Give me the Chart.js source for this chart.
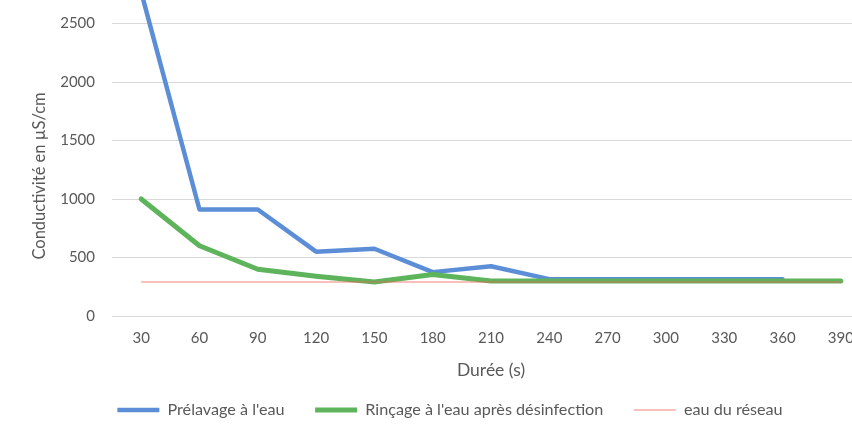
<!DOCTYPE html>
<html>
<head>
<meta charset="utf-8">
<script src="https://cdn.jsdelivr.net/npm/chart.js@4/dist/chart.umd.min.js"></script>
<style>
  html, body { margin: 0; padding: 0; background: #ffffff; }
  #frame { position: relative; width: 852px; height: 428px; overflow: hidden; background: #ffffff; }
  #holder { position: absolute; left: 0; top: -61px; width: 906px; height: 489px; }
</style>
</head>
<body>
<div id="frame">
  <div id="holder"><canvas id="chart" width="906" height="489"></canvas></div>
</div>
<script>
// Durée de rinçage (s)
const durees = ['30', '60', '90', '120', '150', '180', '210', '240', '270', '300', '330', '360', '390'];

// Conductivité en µS/cm
const prelavage = [2770, 910, 910, 550, 575, 375, 425, 315, 315, 315, 315, 315, null];
const rincage   = [1000, 600, 400, 340, 290, 355, 300, 300, 300, 300, 300, 300, 300];
const reseau    = [290, 290, 290, 290, 290, 290, 290, 290, 290, 290, 290, 290, 290];

const yTicks = [0, 500, 1000, 1500, 2000, 2500, 3000];

const seriesNames = ["Prélavage à l'eau", "Rinçage à l'eau après désinfection", "eau du réseau"];
const yTitle = 'Conductivité en µS/cm';
const xTitle = 'Durée (s)';

const textColor = '#595959';
const fontFamily = 'Lato, "Open Sans", sans-serif';

// axis titles, placed by hand
const axisTitlesPlugin = {
  id: 'axisTitlesPlugin',
  afterDraw(chart) {
    const ctx = chart.ctx;
    const area = chart.chartArea;
    ctx.save();
    ctx.fillStyle = textColor;
    ctx.textAlign = 'center';
    ctx.textBaseline = 'middle';

    ctx.font = '17.5px ' + fontFamily;
    ctx.fillText(xTitle, (area.left + area.right) / 2, 431);

    ctx.translate(40, 237);
    ctx.rotate(-Math.PI / 2);
    ctx.font = '16.5px ' + fontFamily;
    ctx.fillText(yTitle, 0, 0);
    ctx.restore();
  }
};

new Chart(document.getElementById('chart'), {
  type: 'line',
  data: {
    labels: durees,
    datasets: [
      {
        label: seriesNames[0],
        data: prelavage,
        borderColor: '#5b8ed6',
        backgroundColor: '#5b8ed6',
        borderWidth: 4.5,
        borderCapStyle: 'round',
        borderJoinStyle: 'round',
        pointRadius: 0,
        tension: 0,
        order: 3
      },
      {
        label: seriesNames[1],
        data: rincage,
        borderColor: '#5db45a',
        backgroundColor: '#5db45a',
        borderWidth: 5,
        borderCapStyle: 'round',
        borderJoinStyle: 'round',
        pointRadius: 0,
        tension: 0,
        order: 2
      },
      {
        label: seriesNames[2],
        data: reseau,
        borderColor: 'rgba(240,100,90,0.55)',
        backgroundColor: 'rgba(240,100,90,0.55)',
        borderWidth: 1.5,
        pointRadius: 0,
        tension: 0,
        order: 1
      }
    ]
  },
  options: {
    responsive: false,
    animation: false,
    devicePixelRatio: 1,
    layout: { padding: { top: 3.5, right: 36, bottom: 0, left: 30 } },
    plugins: {
      legend: {
        position: 'bottom',
        labels: {
          usePointStyle: true,
          pointStyle: 'line',
          pointStyleWidth: 42,
          boxWidth: 42,
          boxHeight: 16.2,
          padding: 30.5,
          color: textColor,
          font: { family: fontFamily, size: 16.2 },
          sort: (a, b) => a.datasetIndex - b.datasetIndex
        }
      },
      tooltip: { enabled: false }
    },
    scales: {
      x: {
        type: 'category',
        offset: true,
        afterFit(scale) { scale.height = 55.3; },
        grid: { display: false, drawTicks: false },
        border: { display: false },
        ticks: { color: textColor, font: { family: fontFamily, size: 15 }, padding: 13, maxRotation: 0 }
      },
      y: {
        min: yTicks[0],
        max: yTicks[yTicks.length - 1],
        afterBuildTicks(scale) { scale.ticks = yTicks.map(v => ({ value: v })); },
        afterFit(scale) { scale.width = 82; },
        grid: { color: '#d9d9d9', lineWidth: 1, drawTicks: false },
        border: { display: false },
        ticks: {
          color: textColor,
          font: { family: fontFamily, size: 15 },
          padding: 17,
          callback: (v) => String(v)
        }
      }
    }
  },
  plugins: [axisTitlesPlugin]
});
</script>
</body>
</html>
